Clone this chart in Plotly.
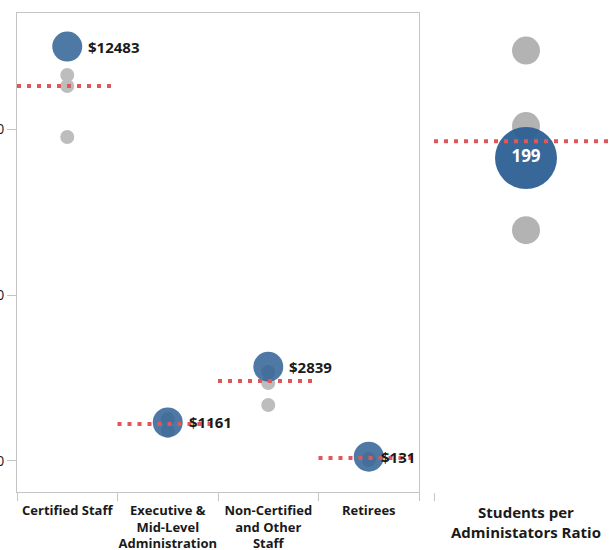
import plotly.graph_objects as go

# ---------------- data ----------------
categories = ["Certified Staff",
              "Executive &<br>Mid-Level<br>Administration",
              "Non-Certified<br>and Other<br>Staff",
              "Retirees"]
highlight_values = [12483, 1161, 2839, 131]
highlight_labels = ["$12483", "$1161", "$2839", "$131"]
peer_values = [[11626, 11295, 9759],
               [1265, 904],
               [2681, 2349, 1687],
               [60, 30]]
average_values = [11295, 1114, 2410, 90]
y_tick_vals = [0, 5000, 10000]
y_tick_text = ["$0", "$5000", "$10000"]

ratio_label = "Students per<br>Administators Ratio"
ratio_value = 199
ratio_peers = [263, 218, 156]
ratio_average = 209

# ---------------- styling ----------------
W, H = 613, 550
FONT = "Open Sans"
TXT = "#1a1a1a"
AXIS_GREY = "#c4c4c4"
BLUE_L = "rgba(44,95,148,0.84)"
BLUE_R = "rgba(44,95,148,0.94)"
GREY_L = "#bdbdbd"
GREY_R = "#b3b3b3"
RED = "#e15759"
label_shift = [19, 19, 19, 10]   # px offset of value labels from marker centre

x_dom = [17 / W, 419 / W]
y_dom = [1 - 492 / H, 1 - 13 / H]
x2_dom = [434 / W, 1.0]

fig = go.Figure()

# peers (grey)
px_, py_ = [], []
for i, vals in enumerate(peer_values):
    for v in vals:
        px_.append(i)
        py_.append(v)
fig.add_trace(go.Scatter(x=px_, y=py_, mode="markers",
                         marker=dict(size=14, color=GREY_L, line=dict(width=0)),
                         hoverinfo="skip"))

# highlighted (blue)
idx = list(range(len(categories)))
fig.add_trace(go.Scatter(x=idx, y=highlight_values, mode="markers",
                         marker=dict(size=30, color=BLUE_L, line=dict(width=0))))

# averages (red dotted)
for i, a in enumerate(average_values):
    fig.add_trace(go.Scatter(x=[i - 0.5, i + 0.47], y=[a, a], mode="lines",
                             line=dict(color=RED, width=4, dash="4px,6px"),
                             hoverinfo="skip"))

# right panel
fig.add_trace(go.Scatter(x=[0] * len(ratio_peers), y=ratio_peers, mode="markers",
                         xaxis="x2", yaxis="y2",
                         marker=dict(size=28, color=GREY_R, line=dict(width=0)),
                         hoverinfo="skip"))
fig.add_trace(go.Scatter(x=[0], y=[ratio_value], mode="markers+text",
                         xaxis="x2", yaxis="y2",
                         marker=dict(size=62, color=BLUE_R, line=dict(width=0)),
                         text=[str(ratio_value)], textposition="middle center",
                         textfont=dict(family=FONT, size=17, color="white", weight="bold")))
fig.add_trace(go.Scatter(x=[-0.514, 0.5], y=[ratio_average, ratio_average], mode="lines",
                         xaxis="x2", yaxis="y2",
                         line=dict(color=RED, width=4, dash="4px,6px"),
                         hoverinfo="skip", cliponaxis=False))

annotations = []
for i, (v, lab) in enumerate(zip(highlight_values, highlight_labels)):
    annotations.append(dict(x=i, y=v, xref="x", yref="y", text=lab, showarrow=False,
                            xanchor="left", yanchor="middle", xshift=label_shift[i],
                            font=dict(family=FONT, size=15, color=TXT, weight="bold")))
annotations.append(dict(x=0, xref="x2", y=1 - 500 / H, yref="paper",
                        yanchor="top", xanchor="center", showarrow=False,
                        text=ratio_label, align="center",
                        font=dict(family=FONT, size=15, color=TXT, weight="bold")))

fig.update_layout(
    width=W, height=H,
    margin=dict(l=0, r=0, t=0, b=0),
    paper_bgcolor="white", plot_bgcolor="white",
    showlegend=False,
    font=dict(family=FONT, color=TXT),
    xaxis=dict(domain=x_dom, range=[-0.5, 3.5], tickvals=idx, ticktext=categories,
               ticks="", showline=True, linecolor=AXIS_GREY, linewidth=1, mirror=True,
               showgrid=False, zeroline=False, automargin=False,
               ticklabelstandoff=6,
               tickfont=dict(family=FONT, size=13, color=TXT, weight="bold"),
               minor=dict(tickvals=[-0.5, 0.5, 1.5, 2.5, 3.5], ticks="outside",
                          ticklen=8, tickcolor=AXIS_GREY, showgrid=False)),
    yaxis=dict(domain=y_dom, range=[-934, 13494], tickvals=y_tick_vals, ticktext=y_tick_text,
               ticks="outside", ticklen=9, tickcolor=AXIS_GREY,
               showline=True, linecolor=AXIS_GREY, linewidth=1, mirror=True,
               showgrid=False, zeroline=False, automargin=False,
               tickfont=dict(family=FONT, size=14, color=TXT)),
    xaxis2=dict(domain=x2_dom, anchor="y2", range=[-0.514, 0.486],
                tickvals=[-0.514], ticktext=[""], ticks="outside", ticklen=8,
                tickcolor=AXIS_GREY, showline=False, showgrid=False, zeroline=False,
                automargin=False),
    yaxis2=dict(domain=y_dom, anchor="x2", range=[0, 285.4], visible=False),
    annotations=annotations,
)

fig.write_html("out.html",
               config={"displayModeBar": False},
               post_script="document.body.style.margin='0px';"
                           "document.body.style.padding='0px';"
                           "document.body.style.overflow='hidden';")
